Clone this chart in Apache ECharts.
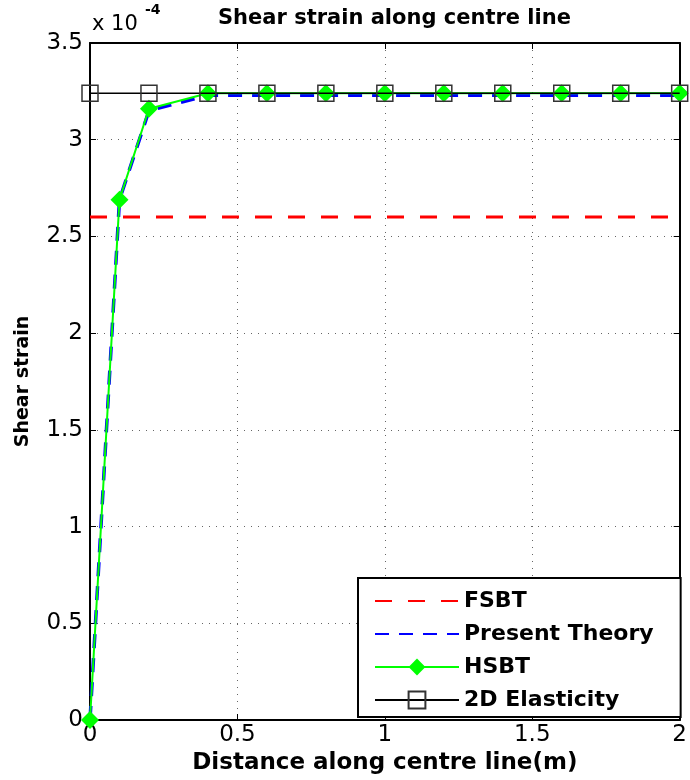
<!DOCTYPE html>
<html><head><meta charset="utf-8">
<script src="https://cdn.jsdelivr.net/npm/echarts@6/dist/echarts.min.js"></script>
<style>html,body{margin:0;padding:0;background:#fff}#c{width:690px;height:780px}</style>
</head><body><div id="c"></div>
<script>
// values in units of 1e-4
const fsbtX = [0, 2];
const fsbtY = [2.6, 2.6];
const presentX = [0, 0.1, 0.2, 0.4, 0.6, 0.8, 1.0, 1.2, 1.4, 1.6, 1.8, 2.0];
const presentY = [0, 2.69, 3.15, 3.23, 3.23, 3.23, 3.23, 3.23, 3.23, 3.23, 3.23, 3.23];
const hsbtX = [0, 0.1, 0.2, 0.4, 0.6, 0.8, 1.0, 1.2, 1.4, 1.6, 1.8, 2.0];
const hsbtY = [0, 2.69, 3.16, 3.24, 3.24, 3.24, 3.24, 3.24, 3.24, 3.24, 3.24, 3.24];
const elastX = [0, 0.2, 0.4, 0.6, 0.8, 1.0, 1.2, 1.4, 1.6, 1.8, 2.0];
const elastY = [3.24, 3.24, 3.24, 3.24, 3.24, 3.24, 3.24, 3.24, 3.24, 3.24, 3.24];
const seriesNames = ['FSBT', 'Present Theory', 'HSBT', '2D Elasticity'];
const xTicks = ['0', '0.5', '1', '1.5', '2'];
const yTicks = ['0', '0.5', '1', '1.5', '2', '2.5', '3', '3.5'];

const zip = (a, b) => a.map((v, i) => [v, b[i]]);
const font = 'DejaVu Sans, sans-serif';
const chart = echarts.init(document.getElementById('c'));
const xFmt = v => { const i = Math.round(v / 0.5); return xTicks[i] !== undefined ? xTicks[i] : ''; };
const yFmt = v => { const i = Math.round(v / 0.5); return yTicks[i] !== undefined ? yTicks[i] : ''; };
const splitDot = { show: true, lineStyle: { type: [1, 6], color: '#666', width: 1 } };
chart.setOption({
  animation: false,
  backgroundColor: '#fff',
  textStyle: { fontFamily: font },
  grid: { left: 90, right: 9, top: 43, bottom: 60, show: false },
  graphic: [
    { type: 'text', left: 218, top: 8, style: { text: 'Shear strain along centre line', font: 'bold 21px ' + font, fill: '#000' } },
    { type: 'text', left: 92, top: 14, style: { text: 'x 10', font: '21px ' + font, fill: '#000' } },
    { type: 'text', left: 145, top: 3, style: { text: '-4', font: 'bold 14px ' + font, fill: '#000' } }
  ],
  xAxis: [{
    type: 'value', min: 0, max: 2, interval: 0.5,
    name: 'Distance along centre line(m)', nameLocation: 'middle', nameGap: 29,
    nameTextStyle: { fontSize: 23, fontWeight: 'bold', color: '#000', fontFamily: font },
    axisLine: { show: true, onZero: false, lineStyle: { color: '#000', width: 2 } },
    axisTick: { show: true, inside: true, length: 6, lineStyle: { color: '#000' } },
    axisLabel: { formatter: xFmt, fontSize: 23, color: '#000', margin: 4, fontFamily: font },
    splitLine: splitDot
  }, {
    type: 'value', min: 0, max: 2, interval: 0.5, position: 'top',
    axisLine: { show: true, onZero: false, lineStyle: { color: '#000', width: 2 } },
    axisTick: { show: true, inside: true, length: 6, lineStyle: { color: '#000' } },
    axisLabel: { show: false }, splitLine: { show: false }
  }],
  yAxis: [{
    type: 'value', min: 0, max: 3.5, interval: 0.5,
    name: 'Shear strain', nameLocation: 'middle', nameGap: 57, nameRotate: 90,
    nameTextStyle: { fontSize: 19, fontWeight: 'bold', color: '#000', fontFamily: font },
    axisLine: { show: true, onZero: false, lineStyle: { color: '#000', width: 2 } },
    axisTick: { show: true, inside: true, length: 6, lineStyle: { color: '#000' } },
    axisLabel: { formatter: yFmt, fontSize: 23, color: '#000', margin: 7, fontFamily: font },
    splitLine: splitDot
  }, {
    type: 'value', min: 0, max: 3.5, interval: 0.5, position: 'right',
    axisLine: { show: true, onZero: false, lineStyle: { color: '#000', width: 2 } },
    axisTick: { show: true, inside: true, length: 6, lineStyle: { color: '#000' } },
    axisLabel: { show: false }, splitLine: { show: false }
  }],
  legend: {
    orient: 'vertical', left: 358, top: 578,
    backgroundColor: '#fff', borderColor: '#000', borderWidth: 2,
    padding: [12, 27, 6, 16], itemGap: 11, itemWidth: 84, itemHeight: 21,
    textStyle: { fontSize: 22, fontWeight: 'bold', color: '#000', fontFamily: font },
    data: seriesNames
  },
  series: [
    { name: seriesNames[0], type: 'line', data: zip(fsbtX, fsbtY), symbol: 'circle', showSymbol: false,
      lineStyle: { color: '#ff0000', width: 3, type: [17, 16] }, itemStyle: { color: 'rgba(0,0,0,0)' }, z: 2 },
    { name: seriesNames[1], type: 'line', data: zip(presentX, presentY), symbol: 'circle', showSymbol: false,
      lineStyle: { color: '#0000ff', width: 3.5, type: [14, 10] }, itemStyle: { color: 'rgba(0,0,0,0)' }, z: 3 },
    { name: seriesNames[2], type: 'line', data: zip(hsbtX, hsbtY), symbol: 'diamond', symbolSize: 18,
      lineStyle: { color: '#00ff00', width: 2 }, itemStyle: { color: '#00ff00' }, z: 4 },
    { name: seriesNames[3], type: 'line', data: zip(elastX, elastY), symbol: 'rect', symbolSize: 16,
      lineStyle: { color: '#000', width: 1.5 }, itemStyle: { color: 'rgba(255,255,255,0)', borderColor: '#333', borderWidth: 1.5 }, z: 5 }
  ]
});
</script></body></html>
